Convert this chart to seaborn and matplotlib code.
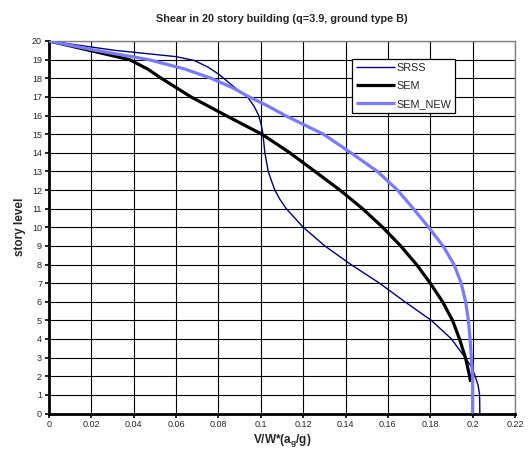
import matplotlib
matplotlib.use("Agg")
import matplotlib.pyplot as plt
import seaborn as sns
import pandas as pd

# ---- data ----
srss_story = [20, 19.5, 19.16, 18.95, 18.6, 18.23, 17.5, 17, 16.5, 16, 15.5, 15, 14, 13, 12.5, 12, 11.5, 11, 10, 9,
              8, 7, 6, 5, 4, 3, 2.5, 2, 1.5, 1, 0]
srss_v = [0, 0.031, 0.06, 0.0687, 0.075, 0.08, 0.0877, 0.0937, 0.0968, 0.0990, 0.1002, 0.101, 0.1019, 0.1035,
          0.105, 0.1066, 0.109, 0.112, 0.12, 0.1302, 0.1425, 0.156, 0.168, 0.1805, 0.19, 0.1965, 0.1995, 0.2012,
          0.2026, 0.2033, 0.2034]

sem_story = [20, 19.5, 19, 18.5, 18, 17.5, 17, 16, 15, 14, 13, 12, 11, 10, 9, 8, 7, 6, 5, 4, 3, 2, 1.7]
sem_v = [0, 0.019, 0.038, 0.0465, 0.053, 0.06, 0.067, 0.0835, 0.1004, 0.1137, 0.1255, 0.1373, 0.148, 0.1575,
         0.166, 0.1735, 0.18, 0.1858, 0.1905, 0.1938, 0.1966, 0.1986, 0.199]

semnew_story = [20, 19.5, 19, 18.5, 18, 17.5, 17, 16.5, 16, 15.5, 15, 14, 13, 12, 11, 10, 9, 8, 7, 6, 5, 4, 3, 2,
                1, 0]
semnew_v = [0, 0.022, 0.047, 0.064, 0.0765, 0.0865, 0.0945, 0.1035, 0.1115, 0.1205, 0.1295, 0.1425, 0.155, 0.1645,
            0.172, 0.1792, 0.186, 0.1912, 0.1946, 0.1967, 0.198, 0.1988, 0.1994, 0.2, 0.2, 0.2]

x_ticks = [0, 0.02, 0.04, 0.06, 0.08, 0.1, 0.12, 0.14, 0.16, 0.18, 0.2, 0.22]
x_tick_labels = ["0", "0.02", "0.04", "0.06", "0.08", "0.1", "0.12", "0.14", "0.16", "0.18", "0.2", "0.22"]
y_ticks = list(range(0, 21))

sns.set_theme(style="white")
plt.rcParams["font.family"] = ["Liberation Sans", "DejaVu Sans"]

fig = plt.figure(figsize=(5.28, 4.53), dpi=100)
ax = fig.add_axes([49 / 528, 1 - 413.5 / 453, (515 - 49) / 528, (413.5 - 41) / 453])

series = [
    ("SRSS", srss_v, srss_story, "#000080", 1.0),
    ("SEM", sem_v, sem_story, "#000000", 2.3),
    ("SEM_NEW", semnew_v, semnew_story, "#7a7aff", 2.3),
]
for name, v, s, c, lw in series:
    df = pd.DataFrame({"v": v, "s": s})
    sns.lineplot(data=df, x="v", y="s", sort=False, estimator=None, color=c, linewidth=lw,
                 label=name, ax=ax, zorder=3, solid_joinstyle="round", solid_capstyle="butt")

ax.set_xlim(0, 0.22)
ax.set_ylim(0, 20)
ax.set_xticks(x_ticks)
ax.set_xticklabels(x_tick_labels)
ax.set_yticks(y_ticks)
ax.grid(True, color="#000000", linewidth=0.8, zorder=0)
ax.set_axisbelow(True)

for side in ["top", "right"]:
    ax.spines[side].set_color("#808080")
    ax.spines[side].set_linewidth(1.0)
for side in ["left", "bottom"]:
    ax.spines[side].set_color("#000000")
    ax.spines[side].set_linewidth(2.0)

ax.tick_params(axis="both", which="both", direction="out", length=3, width=1.2, color="black",
               labelsize=6.5, pad=2, bottom=True, left=True)
ax.set_xlabel("V/W*(a$_\\mathregular{g}$/g)", fontsize=8.5, fontweight="bold", labelpad=2)
ax.set_ylabel("story level", fontsize=8.5, fontweight="bold", labelpad=4)
ax.set_title("Shear in 20 story building (q=3.9, ground type B)", fontsize=7.8, fontweight="bold", pad=14)

leg = ax.legend(loc="upper left", bbox_to_anchor=((352 - 49) / 466, 1 - (59 - 41) / 372.5),
                frameon=True, fancybox=False, shadow=False, fontsize=7.8, handlelength=3.6,
                handletextpad=0.15, borderpad=0.35, labelspacing=0.75, borderaxespad=0)
leg.get_frame().set_edgecolor("black")
leg.get_frame().set_linewidth(0.9)
leg.get_frame().set_facecolor("white")
leg.get_frame().set_alpha(1)

fig.savefig("out.png", dpi=100, facecolor="white")
